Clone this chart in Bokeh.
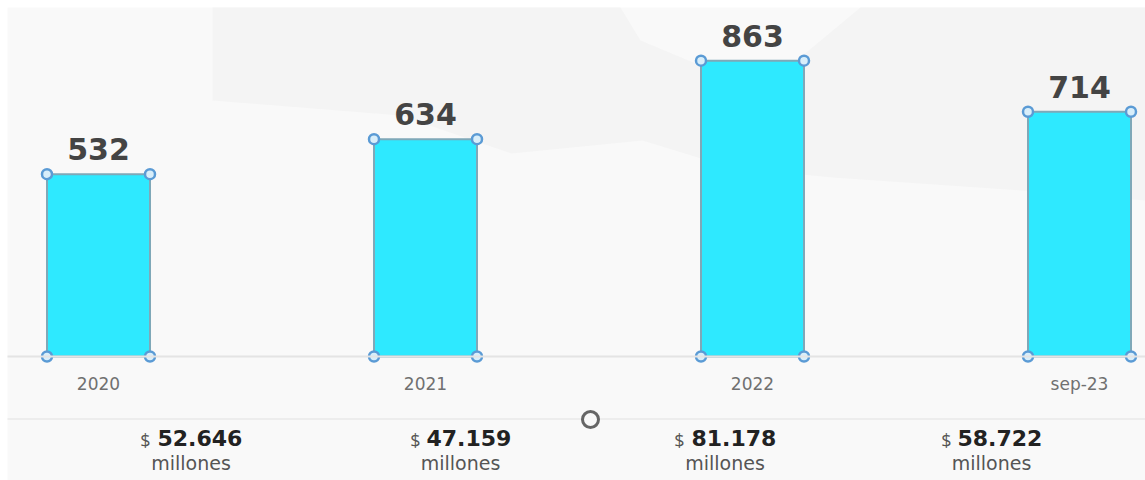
from bokeh.plotting import figure
from bokeh.models import Range1d, FixedTicker
from bokeh.core.properties import value
from bokeh.embed import file_html
from bokeh.resources import INLINE

periods = ["2020", "2021", "2022", "sep-23"]
counts = [532, 634, 863, 714]
amounts = ["52.646", "47.159", "81.178", "58.722"]
unit = "millones"

W, H = 1145, 480
px_per_step = 327.0
px_per_unit = 0.3428
left_px = 98.0        # first bar centre, from the frame's left edge
base_px = 356.0       # baseline, from the frame's top edge

def xd(page_x):
    return (page_x - left_px) / px_per_step

def yd(page_y):
    return (base_px - page_y) / px_per_unit

p = figure(width=W, height=H, output_backend="svg", toolbar_location=None,
           x_range=Range1d(-left_px / px_per_step, (W - left_px) / px_per_step),
           y_range=Range1d(-(H - base_px) / px_per_unit, base_px / px_per_unit),
           min_border=0, background_fill_color="#ffffff",
           border_fill_color="#ffffff", outline_line_color=None)
p.grid.visible = False
p.yaxis.visible = False

idx = list(range(len(periods)))
bar_w = 103 / px_per_step

# panel and faint map backdrop
p.quad(left=xd(7), right=xd(1145), top=yd(7), bottom=yd(480),
       fill_color="#f9f9f9", line_color=None)
p.patch([xd(v) for v in [212, 620, 640, 760, 860, 1145, 1145, 1022, 832, 730, 642, 511, 400, 212]],
        [yd(v) for v in [7, 7, 40, 90, 7, 7, 200, 190, 177, 167, 140, 153, 115, 100]],
        fill_color="#f4f4f4", line_color=None)

# separator above the amounts
p.line([xd(7), xd(1145)], [yd(418.5), yd(418.5)], line_color="#e9e9e9", line_width=1.5)

p.vbar(x=idx, top=counts, bottom=0, width=bar_w, fill_color="#2ee9ff",
       line_color="#7fa8b8", line_width=2)

# selection handles on the bar corners
hx, hy = [], []
for i, c in zip(idx, counts):
    hx += [i - bar_w / 2, i + bar_w / 2, i - bar_w / 2, i + bar_w / 2]
    hy += [c, c, 0, 0]
p.scatter(hx, hy, size=10, marker="circle", fill_color="#d8eefa",
          line_color="#5b9bd5", line_width=2.5)

# count labels
p.text(idx, [c + 25 / px_per_unit for c in counts], text=[str(c) for c in counts],
       text_font=value("DejaVu Sans"), text_font_style="bold", text_font_size="30px",
       text_color="#444444", text_align="center", text_baseline="middle")

# x axis
ax = p.xaxis[0]
ax.fixed_location = 0
ax.bounds = (xd(7), xd(1145))
ax.ticker = FixedTicker(ticks=idx)
ax.major_label_overrides = dict(zip(idx, periods))
ax.major_tick_line_color = None
ax.minor_tick_line_color = None
ax.axis_line_color = "#e4e4e4"
ax.axis_line_width = 2
ax.major_label_standoff = 11
ax.major_label_text_font = "DejaVu Sans"
ax.major_label_text_font_size = "17px"
ax.major_label_text_color = "#707070"

# amounts
number_x = [xd(v) for v in [157, 426, 691, 957]]
dollar_x = [xd(v) for v in [150, 420, 684, 951]]
unit_x = [xd(v) for v in [190.5, 460, 724.5, 991]]
p.text(dollar_x, [yd(439)] * 4, text=["$"] * 4, text_font=value("Open Sans"),
       text_font_size="18px", text_color="#555555", text_align="right",
       text_baseline="middle")
p.text(number_x, [yd(437)] * 4, text=amounts, text_font=value("DejaVu Sans"),
       text_font_style="bold", text_font_size="22px", text_color="#222222",
       text_align="left", text_baseline="middle")
p.text(unit_x, [yd(462)] * 4, text=[unit] * 4, text_font=value("DejaVu Sans"),
       text_font_size="19px", text_color="#555555", text_align="center",
       text_baseline="middle")

# small ring
p.scatter([xd(590)], [yd(419)], size=16, marker="circle", fill_color="#f9f9f9",
          line_color="#666666", line_width=3)

open("out.html", "w").write(file_html(p, INLINE))
